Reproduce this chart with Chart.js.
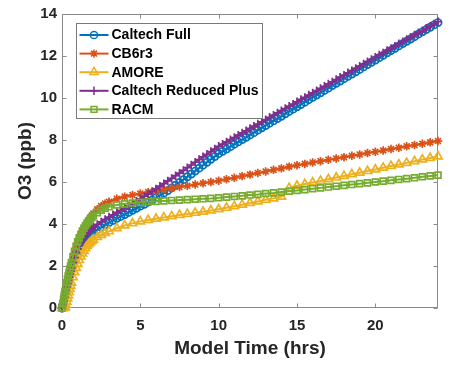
<!DOCTYPE html>
<html><head><meta charset="utf-8">
<script src="https://cdn.jsdelivr.net/npm/chart.js@4.4.1/dist/chart.umd.min.js"></script>
<style>html,body{margin:0;padding:0;background:#fff;}#wrap{width:466px;height:370px;}</style>
</head><body><div id="wrap"><canvas id="c" width="466" height="370"></canvas></div>
<script>
// output times (hrs) for CB6r3, AMORE, RACM
const times = [0,0.05,0.1,0.15,0.2,0.25,0.3,0.35,0.4,0.45,0.5,0.55,0.6,0.7,0.8,0.9,1.0,1.1,1.2,1.3,1.4,1.5,1.6,1.7,1.8,1.9,2.0,2.25,2.5,2.75,3.0,
  3.5,4,4.5,5,5.5,6,6.5,7,7.5,8,8.5,9,9.5,10,10.5,11,11.5,12,12.5,13,13.5,14,14.5,15,15.5,16,16.5,17,17.5,18,18.5,19,19.5,20,20.5,21,21.5,22,22.5,23,23.5,24];
// denser output times (hrs) for the two Caltech mechanisms
const timesCaltech = [0,0.05,0.1,0.15,0.2,0.25,0.3,0.35,0.4,0.45,0.5,0.55,0.6,0.7,0.8,0.9,1.0,1.1,1.2,1.3,1.4,1.5,1.6,1.7,1.8,1.9,2.0,2.25,2.5,2.75,3.0,
  3.25,3.5,3.75,4,4.25,4.5,4.75,5,5.25,5.5,5.75,6,
  6.25,6.5,6.75,7,7.25,7.5,7.75,8,8.25,8.5,8.75,9,
  9.25,9.5,9.75,10,10.25,10.5,10.75,11,11.25,11.5,11.75,12,
  12.25,12.5,12.75,13,13.25,13.5,13.75,14,14.25,14.5,14.75,15,
  15.25,15.5,15.75,16,16.25,16.5,16.75,17,17.25,17.5,17.75,18,
  18.25,18.5,18.75,19,19.25,19.5,19.75,20,20.25,20.5,20.75,21,
  21.25,21.5,21.75,22,22.25,22.5,22.75,23,23.25,23.5,23.75,24];
const caltechFull = [0,0.14,0.3,0.48,0.65,0.8,0.95,1.1,1.25,1.4,1.55,1.68,1.8,2.06,2.3,2.51,2.7,2.86,3.0,3.11,3.2,3.29,3.37,3.44,3.5,3.55,3.6,3.72,3.84,3.96,4.07,
  4.17,4.27,4.36,4.45,4.55,4.65,4.75,4.85,4.94,5.04,5.14,5.25,
  5.36,5.47,5.59,5.72,5.85,5.98,6.11,6.25,6.38,6.52,6.66,6.8,
  6.94,7.08,7.21,7.35,7.46,7.57,7.68,7.8,7.91,8.02,8.13,8.24,
  8.35,8.47,8.58,8.69,8.8,8.91,9.02,9.13,9.25,9.36,9.47,9.58,
  9.69,9.8,9.92,10.03,10.14,10.25,10.36,10.47,10.59,10.7,10.81,10.92,
  11.03,11.14,11.25,11.36,11.48,11.59,11.7,11.81,11.92,12.03,12.15,12.26,
  12.37,12.48,12.59,12.7,12.81,12.92,13.04,13.15,13.26,13.37,13.48,13.59];
const caltechReducedPlus = [0,0.16,0.33,0.51,0.68,0.84,1.0,1.16,1.32,1.47,1.62,1.76,1.9,2.16,2.4,2.62,2.82,2.99,3.13,3.26,3.38,3.48,3.57,3.65,3.72,3.79,3.85,3.98,4.1,4.22,4.33,
  4.44,4.55,4.65,4.75,4.86,4.97,5.08,5.2,5.31,5.43,5.55,5.67,
  5.8,5.92,6.05,6.17,6.3,6.42,6.55,6.68,6.81,6.94,7.07,7.2,
  7.32,7.45,7.57,7.7,7.8,7.91,8.02,8.12,8.23,8.34,8.44,8.55,
  8.66,8.76,8.87,8.97,9.08,9.18,9.29,9.4,9.5,9.61,9.71,9.82,
  9.93,10.03,10.14,10.24,10.35,10.46,10.56,10.67,10.77,10.88,10.99,11.09,
  11.2,11.3,11.41,11.52,11.62,11.73,11.83,11.94,12.05,12.15,12.26,12.36,
  12.47,12.58,12.68,12.79,12.89,13.0,13.11,13.21,13.32,13.42,13.53,13.64];
const cb6r3 = [0,0.17,0.35,0.55,0.75,0.93,1.1,1.28,1.45,1.6,1.75,1.9,2.05,2.33,2.6,2.86,3.1,3.31,3.5,3.66,3.8,3.93,4.05,4.18,4.3,4.4,4.5,4.7,4.85,4.97,5.06,
  5.2,5.3,5.38,5.45,5.52,5.58,5.64,5.7,5.76,5.82,5.88,5.94,6.0,6.06,6.13,6.2,6.28,6.35,6.43,6.5,6.58,6.65,6.73,6.8,6.86,6.93,6.99,7.06,7.12,7.18,7.25,7.31,7.38,7.44,7.5,7.57,7.63,7.7,7.76,7.82,7.89,7.95];
const amore = [0,0,0,0.01,0.05,0.15,0.3,0.45,0.6,0.75,0.9,1.05,1.2,1.46,1.7,1.91,2.1,2.28,2.45,2.59,2.72,2.84,2.95,3.04,3.12,3.19,3.25,3.38,3.48,3.57,3.65,
  3.8,3.93,4.03,4.12,4.19,4.25,4.31,4.37,4.43,4.48,4.53,4.58,4.64,4.7,4.77,4.85,4.92,5.0,5.07,5.15,5.22,5.3,5.72,5.82,5.9,5.98,6.05,6.13,6.21,6.29,6.37,6.44,6.52,6.6,6.68,6.76,6.83,6.91,6.99,7.07,7.14,7.22];
const racm = [0,0.2,0.4,0.6,0.8,1.0,1.2,1.38,1.55,1.7,1.85,2.0,2.15,2.44,2.7,2.94,3.15,3.34,3.5,3.66,3.8,3.92,4.03,4.13,4.22,4.3,4.38,4.54,4.66,4.75,4.82,
  4.91,4.96,5.0,5.03,5.06,5.08,5.1,5.12,5.14,5.16,5.18,5.2,5.22,5.25,5.28,5.31,5.34,5.38,5.41,5.45,5.48,5.52,5.56,5.6,5.64,5.68,5.72,5.76,5.8,5.84,5.88,5.92,5.96,6.0,6.04,6.08,6.12,6.16,6.2,6.25,6.29,6.33];
const seriesLabels = ['Caltech Full','CB6r3','AMORE','Caltech Reduced Plus','RACM'];
const xTicks = [0,5,10,15,20];
const yTicks = [0,2,4,6,8,10,12,14];
const xTitle = 'Model Time (hrs)';
const yTitle = 'O3 (ppb)';

const FONT = "'Liberation Sans', Arial, Helvetica, sans-serif";
Chart.defaults.font.family = FONT;
const seriesValues = [caltechFull, cb6r3, amore, caltechReducedPlus, racm];
const seriesTimes = [timesCaltech, times, times, timesCaltech, times];
const colors = ['#0072BD','#D95319','#EDB120','#7E2F8E','#77AC30'];
const styles = ['circle','star','triangle','cross','rect'];
const radii = [3.6,4.2,4.8,4.2,4.2];

const datasets = seriesValues.map((vals, k) => ({
  label: seriesLabels[k],
  data: seriesTimes[k].map((t, i) => ({x: t, y: vals[i]})),
  borderColor: colors[k],
  backgroundColor: 'rgba(0,0,0,0)',
  pointBorderColor: colors[k],
  pointBackgroundColor: 'rgba(0,0,0,0)',
  pointStyle: styles[k],
  pointRadius: radii[k],
  pointBorderWidth: 1.7,
  borderWidth: 2,
  tension: 0,
  clip: false,
  order: 4 - k
}));

function drawMarker(ctx, style, r, x, y, color) {
  ctx.save();
  ctx.strokeStyle = color; ctx.lineWidth = 1.5;
  ctx.beginPath();
  if (style === 'circle') { ctx.arc(x, y, r, 0, Math.PI*2); }
  else if (style === 'rect') { const s = Math.SQRT1_2*r; ctx.rect(x-s, y-s, 2*s, 2*s); }
  else if (style === 'triangle') {
    ctx.moveTo(x, y - r); ctx.lineTo(x + r*0.866, y + r*0.5); ctx.lineTo(x - r*0.866, y + r*0.5); ctx.closePath();
  } else if (style === 'cross') {
    ctx.moveTo(x, y-r); ctx.lineTo(x, y+r); ctx.moveTo(x-r, y); ctx.lineTo(x+r, y);
  } else if (style === 'star') {
    ctx.moveTo(x, y-r); ctx.lineTo(x, y+r); ctx.moveTo(x-r, y); ctx.lineTo(x+r, y);
    const d = r*Math.SQRT1_2;
    ctx.moveTo(x-d, y-d); ctx.lineTo(x+d, y+d); ctx.moveTo(x-d, y+d); ctx.lineTo(x+d, y-d);
  }
  ctx.stroke();
  ctx.restore();
}

const axesBox = {
  id: 'axesBox',
  beforeDatasetsDraw(chart) {
    const {ctx, chartArea: a, scales} = chart;
    const L = Math.round(a.left) + 0.5, R = Math.round(a.right) - 0.5, T = Math.round(a.top) + 0.5, B = Math.round(a.bottom) - 0.5;
    ctx.save();
    ctx.strokeStyle = '#8a8a8a'; ctx.lineWidth = 1;
    ctx.strokeRect(L, T, R - L, B - T);
    ctx.beginPath();
    const tl = 4;
    xTicks.forEach(v => { const p = Math.round(scales.x.getPixelForValue(v)) + 0.5;
      ctx.moveTo(p, B); ctx.lineTo(p, B - tl); ctx.moveTo(p, T); ctx.lineTo(p, T + tl); });
    yTicks.forEach(v => { const p = Math.round(scales.y.getPixelForValue(v)) + 0.5;
      ctx.moveTo(L, p); ctx.lineTo(L + tl, p); ctx.moveTo(R, p); ctx.lineTo(R - tl, p); });
    ctx.stroke();
    ctx.restore();
  }
};

const legendBox = {
  id: 'legendBox',
  afterDraw(chart) {
    const {ctx, chartArea: a} = chart;
    const bx = Math.round(a.left) + 14.5, by = Math.round(a.top) + 9.5, bw = 186, bh = 95;
    ctx.save();
    ctx.fillStyle = '#fff'; ctx.fillRect(bx, by, bw, bh);
    ctx.strokeStyle = '#7a7a7a'; ctx.lineWidth = 1; ctx.strokeRect(bx, by, bw, bh);
    ctx.font = 'bold 14px ' + FONT;
    ctx.textBaseline = 'middle'; ctx.textAlign = 'left';
    seriesLabels.forEach((lab, k) => {
      const y = by + 11.5 + k * 18.6;
      ctx.strokeStyle = colors[k]; ctx.lineWidth = 2;
      ctx.beginPath(); ctx.moveTo(bx + 3, y); ctx.lineTo(bx + 32, y); ctx.stroke();
      drawMarker(ctx, styles[k], radii[k], bx + 17.5, y, colors[k]);
      ctx.fillStyle = '#000';
      ctx.fillText(lab, bx + 35, y + 0.5);
    });
    ctx.restore();
  }
};

new Chart(document.getElementById('c'), {
  type: 'line',
  data: { datasets },
  options: {
    responsive: false,
    animation: false,
    devicePixelRatio: 1,
    layout: { padding: { top: 13, right: 28, bottom: 0, left: 0 } },
    plugins: { legend: { display: false }, tooltip: { enabled: false } },
    scales: {
      x: {
        type: 'linear', min: 0, max: 24,
        afterBuildTicks: s => { s.ticks = xTicks.map(v => ({ value: v })); },
        afterFit: s => { s.height = 62; },
        grid: { display: false, drawTicks: false },
        border: { display: false },
        ticks: { font: { size: 15, weight: 'bold' }, color: '#262626', padding: 9, maxRotation: 0, autoSkip: false },
        title: { display: true, text: xTitle, font: { size: 19, weight: 'bold' }, color: '#262626', padding: { top: 0, bottom: 10 } }
      },
      y: {
        type: 'linear', min: 0, max: 14,
        afterBuildTicks: s => { s.ticks = yTicks.map(v => ({ value: v })); },
        afterFit: s => { s.width = 62; },
        grid: { display: false, drawTicks: false },
        border: { display: false },
        ticks: { font: { size: 15, weight: 'bold' }, color: '#262626', padding: 5, autoSkip: false },
        title: { display: true, text: yTitle, font: { size: 19, weight: 'bold' }, color: '#262626', padding: { top: 14, bottom: 0 } }
      }
    }
  },
  plugins: [axesBox, legendBox]
});
</script>
</body></html>
